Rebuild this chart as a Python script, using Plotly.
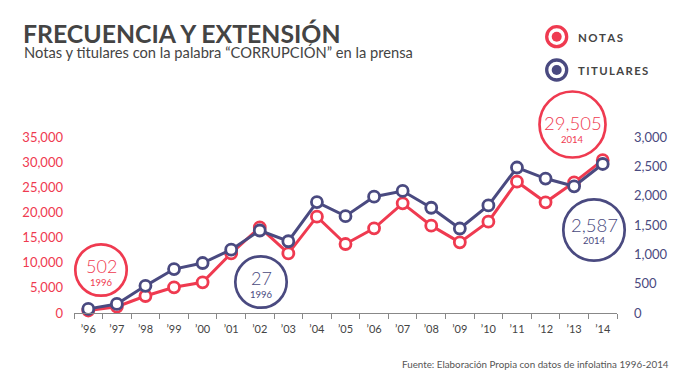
import plotly.graph_objects as go

years = ["’96", "’97", "’98", "’99", "’00", "’01", "’02", "’03", "’04", "’05",
         "’06", "’07", "’08", "’09", "’10", "’11", "’12", "’13", "’14"]
notas = [502, 1250, 3380, 5110, 6100, 11870, 17040, 11870, 19150, 13720,
         16840, 21810, 17370, 14050, 18160, 26110, 22010, 25990, 30400]
titulares = [70, 154, 463, 749, 852, 1080, 1406, 1223, 1891, 1651,
             1983, 2080, 1794, 1440, 1834, 2480, 2292, 2160, 2540]
left_ticks = [0, 5000, 10000, 15000, 20000, 25000, 30000, 35000]
right_ticks = [0, 500, 1000, 1500, 2000, 2500, 3000]

RED = "#EF3A50"
BLUE = "#4A4A80"
GRAY = "#444444"
FONT = "Lato"

L, R, T, B = 74, 617, 137, 313
W, H = R - L, B - T


def px(x):
    return (x - L) / W


def py(y):
    return (B - y) / H


fig = go.Figure()
fig.add_trace(go.Scatter(
    x=years, y=titulares, yaxis="y2", mode="lines+markers",
    line=dict(color=BLUE, width=3),
    marker=dict(size=11, color="white", line=dict(color=BLUE, width=2.8)),
    showlegend=False, cliponaxis=False))
fig.add_trace(go.Scatter(
    x=years, y=notas, mode="lines+markers",
    line=dict(color=RED, width=3),
    marker=dict(size=11, color="white", line=dict(color=RED, width=2.8)),
    showlegend=False, cliponaxis=False))

shapes = []


def circle(cx, cy, r, color, width, fill=None):
    shapes.append(dict(type="circle", xref="paper", yref="paper",
                       x0=px(cx - r), x1=px(cx + r), y0=py(cy + r), y1=py(cy - r),
                       line=dict(color=color, width=width),
                       fillcolor=fill if fill else "rgba(0,0,0,0)"))


# annotation circles
circle(101, 270, 25.7, RED, 2.7)
circle(261, 282, 25.7, BLUE, 2.7)
circle(572.5, 124.5, 33, RED, 2.7)
circle(594, 230, 30.7, BLUE, 2.7)
# legend icons
circle(556.7, 36.7, 10, RED, 3.3)
circle(556.7, 36.7, 5, RED, 0, RED)
circle(556.7, 70, 10, BLUE, 3.3)
circle(556.7, 70, 5, BLUE, 0, BLUE)

annotations = []


def text(x, y, s, size, color, xanchor="center", weight="normal"):
    annotations.append(dict(
        x=px(x), y=py(y), xref="paper", yref="paper", text=s, showarrow=False,
        xanchor=xanchor, yanchor="middle",
        font=dict(family=FONT, size=size, color=color, weight=weight)))


text(101, 265.5, "502", 18, RED, weight=300)
text(101, 282, "1996", 9.5, RED)
text(261, 277.5, "27", 18, BLUE, weight=300)
text(261, 294, "1996", 9.5, BLUE)
text(572.5, 123, "29,505", 18.5, RED, weight=300)
text(572.5, 139, "2014", 9.5, RED)
text(594, 224.5, "2,587", 18.5, BLUE, weight=300)
text(594, 240.5, "2014", 9.5, BLUE)

sp = "\u2009"
text(576, 37, sp.join("NOTAS"), 11.5, GRAY, "left", "bold")
text(576, 70, sp.join("TITULARES"), 11.3, GRAY, "left", "bold")

text(21, 33.5, "FRECUENCIA Y EXTENSIÓN", 24.8, GRAY, "left", "bold")
text(21.5, 52.5, "Notas y titulares con la palabra “CORRUPCIÓN” en la prensa", 14.7, GRAY, "left")
text(671, 364, "Fuente: Elaboración Propia con datos de infolatina 1996-2014", 9.8, "#555555", "right")

fig.update_layout(
    width=700, height=385,
    margin=dict(l=L, r=700 - R, t=T, b=385 - B),
    paper_bgcolor="white", plot_bgcolor="white",
    font=dict(family=FONT),
    shapes=shapes, annotations=annotations,
    xaxis=dict(type="category", range=[-0.5, 18.5], showgrid=False,
               showline=True, linecolor="#888888", linewidth=1,
               ticks="outside", tickson="boundaries", ticklen=5, tickcolor="#888888",
               ticklabelstandoff=6,
               tickfont=dict(family=FONT, size=11, color=GRAY), zeroline=False),
    yaxis=dict(range=[0, 35000], tickvals=left_ticks, tickformat=",d",
               showgrid=False, zeroline=False, showline=False, ticks="",
               ticklabelstandoff=10,
               tickfont=dict(family=FONT, size=13, color=RED)),
    yaxis2=dict(range=[0, 3000], tickvals=right_ticks, tickformat=",d",
                overlaying="y", side="right",
                showgrid=False, zeroline=False, showline=False, ticks="",
                ticklabelstandoff=16,
                tickfont=dict(family=FONT, size=13, color=BLUE)),
)

fig.write_html("out.html")
